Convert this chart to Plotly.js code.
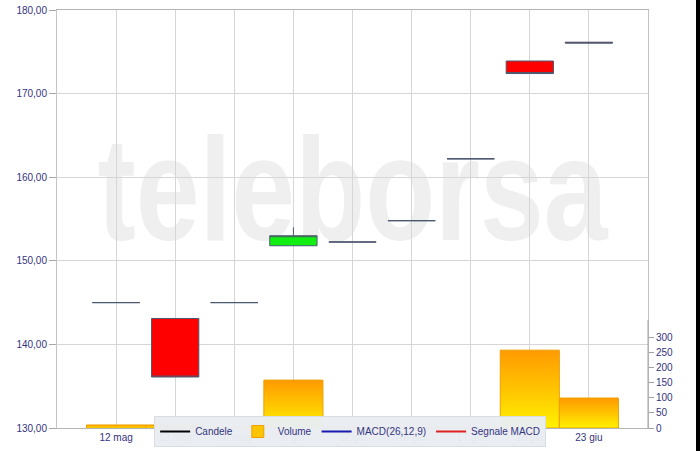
<!DOCTYPE html>
<html>
<head>
<meta charset="utf-8">
<script src="https://cdn.plot.ly/plotly-3.0.1.min.js"></script>
<style>
  html, body { margin: 0; padding: 0; background: #000; }
  #chart { width: 696px; height: 451px; background: #fff; }
</style>
</head>
<body>
<div id="chart"></div>
<script>
// ---- data ----
var categories = ['12 mag', '13 mag', '16 mag', '6 giu', '12 giu', '16 giu', '17 giu', '18 giu', '23 giu'];
var openVals  = [145.0, 143.1, 145.0, 151.8, 152.25, 154.8, 162.2, 173.9, 176.15];
var highVals  = [145.0, 143.1, 145.0, 154.0, 152.25, 154.8, 162.2, 173.9, 176.15];
var lowVals   = [145.0, 136.1, 145.0, 151.8, 152.25, 154.8, 162.2, 172.4, 176.05];
var closeVals = [145.0, 136.1, 145.0, 153.0, 152.25, 154.8, 162.2, 172.4, 176.05];
var volumeVals = [10, 10, 3, 158, 3, 3, 3, 257, 99];
var volumeTicks = [0, 50, 100, 150, 200, 250, 300];
var macdVals   = [null, null, null, null, null, null, null, null, null];
var signalVals = [null, null, null, null, null, null, null, null, null];
var watermarkText = 'teleborsa';

var FONT = 'Liberation Sans, Arial, sans-serif';
var NAVY = '#34347e';

var traces = [
  {
    type: 'candlestick', name: 'Candele', showlegend: false,
    x: categories, open: openVals, high: highVals, low: lowVals, close: closeVals,
    xaxis: 'x', yaxis: 'y',
    increasing: { fillcolor: '#11ee11', line: { color: '#4d5870', width: 1 } },
    decreasing: { fillcolor: '#ff0000', line: { color: '#4d5870', width: 1 } },
    whiskerwidth: 0, hoverinfo: 'skip'
  },
  {
    type: 'scatter', mode: 'lines', name: 'Candele',
    x: categories, y: macdVals.map(function () { return null; }),
    line: { color: '#000000', width: 2 }, xaxis: 'x', yaxis: 'y', hoverinfo: 'skip'
  },
  {
    type: 'bar', name: 'Volume', x: categories, y: volumeVals,
    xaxis: 'x', yaxis: 'y2',
    marker: { color: '#ffc400', line: { color: '#eea000', width: 1 } },
    hoverinfo: 'skip'
  },
  {
    type: 'scatter', mode: 'lines', name: 'MACD(26,12,9)',
    x: categories, y: macdVals, line: { color: '#1a1ab0', width: 2 },
    xaxis: 'x', yaxis: 'y', hoverinfo: 'skip'
  },
  {
    type: 'scatter', mode: 'lines', name: 'Segnale MACD',
    x: categories, y: signalVals, line: { color: '#dd2222', width: 2 },
    xaxis: 'x', yaxis: 'y', hoverinfo: 'skip'
  }
];

var layout = {
  width: 696, height: 451,
  margin: { l: 57, r: 48, t: 10, b: 23, autoexpand: false },
  paper_bgcolor: '#ffffff',
  plot_bgcolor: '#ffffff',
  separators: ',.',
  font: { family: FONT, size: 10, color: NAVY },
  showlegend: true,
  bargap: 0,
  boxgap: 0.2, boxgroupgap: 0,
  xaxis: {
    type: 'category', categoryorder: 'array', categoryarray: categories,
    range: [-1, 9], fixedrange: true,
    rangeslider: { visible: false },
    showgrid: true, gridcolor: '#d6d6d6', gridwidth: 1,
    showline: true, linecolor: '#b4b4b4', linewidth: 1, mirror: true,
    ticks: '', tickfont: { family: FONT, size: 10, color: NAVY }
  },
  yaxis: {
    range: [130, 180], dtick: 10, tick0: 130, tickformat: '.2f',
    showgrid: true, gridcolor: '#d6d6d6', gridwidth: 1, zeroline: false,
    showline: true, linecolor: '#c4c4c4', linewidth: 1, mirror: true,
    ticks: 'outside', ticklen: 7, tickcolor: '#a8a8a8',
    tickfont: { family: FONT, size: 10, color: NAVY }
  },
  yaxis2: {
    overlaying: 'y', side: 'right', anchor: 'x',
    range: [0, 1379.5], tickmode: 'array', tickvals: volumeTicks,
    showgrid: false, zeroline: false, showline: false,
    ticks: 'outside', ticklen: 5, tickcolor: '#a0a0a0',
    tickfont: { family: FONT, size: 10, color: NAVY }
  },
  legend: {
    orientation: 'h', x: 0.496, xanchor: 'center', y: 0.0287, yanchor: 'top',
    bgcolor: 'rgba(233,237,242,0.97)', bordercolor: '#d8dde4', borderwidth: 1,
    font: { family: FONT, size: 10, color: NAVY },
    itemclick: false, itemdoubleclick: false
  },
  shapes: [
    {
      type: 'rect', xref: 'paper', yref: 'paper', layer: 'below',
      x0: 0.06, x1: 0.94, y0: 0.43, y1: 0.78,
      line: { width: 0 }, fillcolor: 'rgba(0,0,0,0)',
      label: {
        text: watermarkText, textposition: 'middle center',
        font: { family: FONT, size: 147, color: '#efefef', weight: 'bold' }
      }
    },
    {
      type: 'line', xref: 'paper', yref: 'paper', layer: 'above',
      x0: 1, x1: 1, y0: 0, y1: 0.258,
      line: { color: '#a0a0a0', width: 1 }
    }
  ]
};

Plotly.newPlot('chart', traces, layout, { displayModeBar: false, staticPlot: true }).then(function (gd) {
  var svg = gd.querySelector('.main-svg');
  var defs = svg.querySelector('defs');
  var NS = 'http://www.w3.org/2000/svg';
  var grad = document.createElementNS(NS, 'linearGradient');
  grad.setAttribute('id', 'volGrad');
  grad.setAttribute('x1', '0'); grad.setAttribute('y1', '0');
  grad.setAttribute('x2', '0'); grad.setAttribute('y2', '1');
  [['0', '#ff9a00'], ['0.55', '#ffc800'], ['1', '#fff200']].forEach(function (s) {
    var st = document.createElementNS(NS, 'stop');
    st.setAttribute('offset', s[0]);
    st.setAttribute('stop-color', s[1]);
    grad.appendChild(st);
  });
  defs.appendChild(grad);
  gd.querySelectorAll('.barlayer .trace.bars path').forEach(function (p) {
    p.style.fill = 'url(#volGrad)';
  });
  gd.querySelectorAll('.legend .legendpoints path').forEach(function (p) {
    if (p.closest('.legendbar') || p.parentNode.classList.contains('legendbar')) {
      p.style.fill = 'url(#volGrad)';
    }
  });
  gd.querySelectorAll('text').forEach(function (t) {
    if (t.textContent === watermarkText) {
      t.setAttribute('textLength', '510');
      t.setAttribute('lengthAdjust', 'spacingAndGlyphs');
    }
  });
});
</script>
</body>
</html>
